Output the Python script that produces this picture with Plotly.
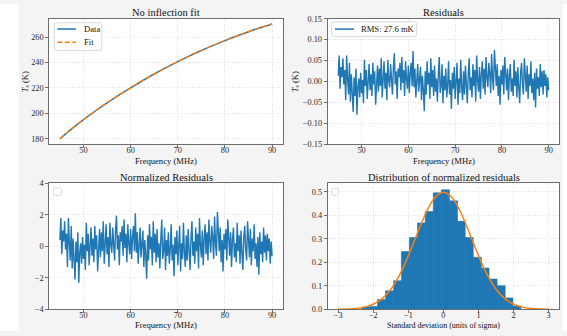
import numpy as np
import plotly.graph_objects as go

# ---------------------------------------------------------------- data
# Sky temperature model (K) sampled every 2.5 MHz across the band
FREQ_COARSE_MHZ = [45.0, 47.5, 50.0, 52.5, 55.0, 57.5, 60.0, 62.5, 65.0, 67.5,
                   70.0, 72.5, 75.0, 77.5, 80.0, 82.5, 85.0, 87.5, 90.0]
T_SKY_K = [180.0, 187.8, 195.0, 201.8, 208.2, 214.3, 220.0, 225.6, 230.9, 235.9,
           240.7, 245.2, 249.4, 253.4, 257.2, 260.8, 264.2, 267.3, 270.2]

# Normalized residuals (units of sigma), 0.2 MHz spacing from 45 to 90 MHz
NORM_RESID = [
    0.4, 1.8, -0.5, 1.0, 0.3, 1.6, -0.2, 0.8, -1.3, 1.8,
    0.2, -0.9, 1.3, -1.4, 0.5, -0.6, -2.1, 0.3, -1.0, 0.9,
    -2.3, -0.4, 0.2, -1.1, 0.6, -0.8, 0.1, -1.5, 1.5, -0.3,
    0.8, -1.2, 0.3, 1.2, -0.6, 0.5, -1.0, 1.3, -0.2, 0.7,
    -1.6, 0.4, 1.1, -0.7, 0.9, -0.3, 1.6, -1.1, 0.2, 1.4,
    -0.5, 0.6, -1.3, 1.5, 0.1, -0.4, 1.2, 0.4, -0.9, 1.0,
    1.95, -0.2, 0.7, -1.2, 0.9, 0.3, 1.3, -0.6, 1.7, -0.1,
    0.8, -1.0, 1.4, 0.2, -0.5, 1.1, -0.8, 0.6, 1.3, -0.3,
    2.1, -0.4, 0.9, -1.1, 0.5, 1.2, -0.7, 0.3, 1.0, -1.3,
    0.4, -0.6, -2.05, 0.7, -0.9, 1.4, -0.2, 0.6, -1.2, 1.6,
    -0.4, 0.8, -1.0, 1.1, -0.7, 0.2, -1.4, 0.5, 1.7, -0.8,
    -0.3, 1.2, -1.5, 0.4, -0.6, 0.9, -1.1, -0.2, 1.4, -0.9,
    0.1, -1.9, 0.6, -0.5, 1.0, -1.2, -0.3, 1.3, -1.6, 0.2,
    -0.8, 1.5, -0.4, -1.3, 0.7, -0.9, 1.1, -0.2, -1.5, 0.5,
    1.6, -0.6, 0.3, -1.1, 1.2, -0.3, 0.8, -1.4, 1.8, 0.1,
    -0.7, 1.0, -1.2, 0.5, 1.4, -0.5, 0.9, -0.9, 1.7, 0.3,
    -0.4, 1.3, 0.6, -0.8, 1.9, 0.2, -0.6, 2.2, 0.7, -0.3,
    1.2, -1.0, 0.4, -1.6, 0.8, -0.2, 1.1, -0.9, 1.7, 0.3,
    -0.6, 0.9, -1.3, 0.4, 1.2, -0.7, 0.2, -1.0, 1.5, -0.3,
    0.7, -1.1, 1.0, -0.4, -1.5, 0.6, 1.3, -0.2, -0.9, 1.6,
    0.1, -0.7, 1.1, -1.2, 0.5, -0.3, 1.4, -0.8, 0.2, -1.3,
    0.6, -1.8, 0.9, -0.5, 0.3, -1.0, 1.2, -0.4, 0.7, -0.9,
    0.8, -0.3, 0.5, -1.1, 0.3, -0.6,
]
NOISE_SIGMA_K = 0.0345      # per-channel noise used for normalization
RMS_LABEL = "RMS: 27.6 mK"

# Histogram of normalized residuals (density)
HIST_EDGES = [-2.33, -2.10, -1.88, -1.65, -1.42, -1.20, -0.97, -0.74, -0.52,
              -0.29, -0.06, 0.17, 0.40, 0.62, 0.85, 1.08, 1.30, 1.53, 1.76,
              1.98, 2.21]
HIST_DENSITY = [0.010, 0.012, 0.042, 0.079, 0.122, 0.246, 0.306, 0.368, 0.417,
                0.496, 0.509, 0.462, 0.375, 0.306, 0.222, 0.176, 0.129, 0.101,
                0.049, 0.014]

# Gaussian fitted to the normalized residual distribution
GAUSS_X = [-3.0, -2.75, -2.5, -2.25, -2.0, -1.75, -1.5, -1.25, -1.0, -0.75,
           -0.5, -0.25, 0.0, 0.25, 0.5, 0.75, 1.0, 1.25, 1.5, 1.75, 2.0,
           2.25, 2.5, 2.75, 3.0]
GAUSS_Y = [0.0004, 0.0014, 0.0038, 0.0096, 0.0219, 0.0456, 0.0860, 0.1471,
           0.2283, 0.3214, 0.4102, 0.4749, 0.4987, 0.4749, 0.4102, 0.3214,
           0.2283, 0.1471, 0.0860, 0.0456, 0.0219, 0.0096, 0.0038, 0.0014,
           0.0004]

# ---------------------------------------------------------------- style
W, H = 567, 336
SERIF = "Liberation Serif, Times New Roman, serif"
BLUE = "#1f77b4"
ORANGE = "#ff7f0e"
SPINE = "#6e6e6e"
GRID = "#e2e2e2"
FIG_BG = "#f4f4f4"


def px(x):
    return x / W


def py(y):
    return 1 - y / H


freq_fine = np.linspace(45.0, 90.0, len(NORM_RESID))
resid_k = [v * NOISE_SIGMA_K for v in NORM_RESID]
hist_centers = [(a + b) / 2 for a, b in zip(HIST_EDGES[:-1], HIST_EDGES[1:])]
hist_widths = [b - a for a, b in zip(HIST_EDGES[:-1], HIST_EDGES[1:])]

fig = go.Figure()

fig.add_trace(go.Scatter(x=FREQ_COARSE_MHZ, y=T_SKY_K, mode="lines",
                         line=dict(color=BLUE, width=1.5, shape="spline"),
                         xaxis="x", yaxis="y", name="Data"))
fig.add_trace(go.Scatter(x=FREQ_COARSE_MHZ, y=T_SKY_K, mode="lines",
                         line=dict(color=ORANGE, width=1.5, shape="spline",
                                   dash="5px,2.5px"),
                         xaxis="x", yaxis="y", name="Fit"))
fig.add_trace(go.Scatter(x=freq_fine, y=resid_k, mode="lines",
                         line=dict(color=BLUE, width=1.4),
                         xaxis="x2", yaxis="y2", name=RMS_LABEL))
fig.add_trace(go.Scatter(x=freq_fine, y=NORM_RESID, mode="lines",
                         line=dict(color=BLUE, width=1.4),
                         xaxis="x3", yaxis="y3"))
fig.add_trace(go.Bar(x=hist_centers, y=HIST_DENSITY, width=hist_widths,
                     marker=dict(color=BLUE, line=dict(width=0.6, color=BLUE)),
                     xaxis="x4", yaxis="y4"))
fig.add_trace(go.Scatter(x=GAUSS_X, y=GAUSS_Y, mode="lines",
                         line=dict(color=ORANGE, width=1.5, shape="spline"),
                         xaxis="x4", yaxis="y4"))

XL = [px(49.3), px(282.7)]
XR = [px(327.7), px(559.2)]
YT = [py(144.3), py(15.0)]
YB = [py(313.8), py(184.3)]


def axis(domain, rng, anchor, **kw):
    d = dict(domain=domain, range=rng, anchor=anchor, showline=True,
             linecolor=SPINE, linewidth=1, mirror=True, ticks="outside",
             ticklen=3, tickwidth=0.8, tickcolor=SPINE, showgrid=True,
             gridcolor=GRID, griddash="1px,1.5px", gridwidth=0.8,
             zeroline=False,
             tickfont=dict(family=SERIF, size=8.3, color="#2a2a2a"))
    d.update(kw)
    return d


XTICK = dict(ticklabelstandoff=-5)

fig.update_layout(
    width=W, height=H, margin=dict(l=0, r=0, t=0, b=0),
    paper_bgcolor=FIG_BG, plot_bgcolor="white", showlegend=False,
    xaxis=axis(XL, [42.75, 92.25], "y", tickvals=[50, 60, 70, 80, 90],
               **XTICK),
    yaxis=axis(YT, [175.5, 274.5], "x", tickvals=[180, 200, 220, 240, 260]),
    xaxis2=axis(XR, [42.75, 92.25], "y2", tickvals=[50, 60, 70, 80, 90],
                **XTICK),
    yaxis2=axis(YT, [-0.15, 0.15], "x2", dtick=0.05, tick0=0,
                tickformat=".2f"),
    xaxis3=axis(XL, [42.75, 92.25], "y3", tickvals=[50, 60, 70, 80, 90],
                **XTICK),
    yaxis3=axis(YB, [-4, 4], "x3", tickvals=[-4, -2, 0, 2, 4]),
    xaxis4=axis(XR, [-3.3, 3.3], "y4", tickvals=[-3, -2, -1, 0, 1, 2, 3],
                **XTICK),
    yaxis4=axis(YB, [0, 0.5365], "x4", dtick=0.1, tick0=0,
                tickformat=".1f"),
)

# ---------------------------------------------------------------- texts
def text(x, y, s, size, xanchor="center", angle=0):
    fig.add_annotation(x=px(x), y=py(y), xref="paper", yref="paper",
                       text=s, showarrow=False, xanchor=xanchor,
                       yanchor="middle", textangle=angle,
                       font=dict(family=SERIF, size=size, color="#111111"))


text(166.0, 9.0, "No inflection fit", 10.5)
text(443.5, 9.0, "Residuals", 10.5)
text(166.0, 178.5, "Normalized Residuals", 10.5)
text(443.5, 178.5, "Distribution of normalized residuals", 10.5)
text(166.0, 161.5, "Frequency (MHz)", 8.6)
text(443.5, 161.5, "Frequency (MHz)", 8.6)
text(166.0, 330.0, "Frequency (MHz)", 8.6)
text(443.5, 330.0, "Standard deviation (units of sigma)", 8.0)
text(25.5, 80.0, "<i>T</i><sub>s</sub> (K)", 8.6, angle=-90)
text(295.5, 80.0, "<i>T</i><sub>s</sub> (K)", 8.6, angle=-90)

# ---------------------------------------------------------------- legends
def rounded_box(x0, y0, x1, y1, r=2.0):
    X = lambda v: px(v)
    Y = lambda v: py(v)
    path = (f"M{X(x0 + r)},{Y(y0)} L{X(x1 - r)},{Y(y0)} "
            f"Q{X(x1)},{Y(y0)} {X(x1)},{Y(y0 + r)} "
            f"L{X(x1)},{Y(y1 - r)} Q{X(x1)},{Y(y1)} {X(x1 - r)},{Y(y1)} "
            f"L{X(x0 + r)},{Y(y1)} Q{X(x0)},{Y(y1)} {X(x0)},{Y(y1 - r)} "
            f"L{X(x0)},{Y(y0 + r)} Q{X(x0)},{Y(y0)} {X(x0 + r)},{Y(y0)} Z")
    fig.add_shape(type="path", path=path, xref="paper", yref="paper",
                  fillcolor="rgba(255,255,255,0.85)",
                  line=dict(color="#d0d0d0", width=0.8), layer="above")


def sample(x0, x1, y, color, dash="solid"):
    fig.add_shape(type="line", x0=px(x0), x1=px(x1), y0=py(y), y1=py(y),
                  xref="paper", yref="paper", layer="above",
                  line=dict(color=color, width=1.5, dash=dash))


rounded_box(54.3, 19.3, 101.7, 47.7)
sample(57.3, 76.0, 25.7, BLUE)
sample(57.3, 76.0, 39.3, ORANGE, "5px,2.5px")
text(81.5, 25.7, "Data", 8.6, xanchor="left")
text(81.5, 39.3, "Fit", 8.6, xanchor="left")

rounded_box(331.7, 18.3, 416.7, 33.3)
sample(335.0, 354.0, 25.8, BLUE)
text(359.0, 25.8, RMS_LABEL, 8.6, xanchor="left")

rounded_box(53.3, 189.0, 61.7, 196.7)
rounded_box(331.7, 189.3, 338.3, 196.7)

# white strips at the page edges
for a, b in [(0, 19), (563, W)]:
    fig.add_shape(type="rect", x0=px(a), x1=px(b), y0=0, y1=1,
                  xref="paper", yref="paper", fillcolor="white",
                  line=dict(width=0), layer="below")

fig.write_html("out.html")
